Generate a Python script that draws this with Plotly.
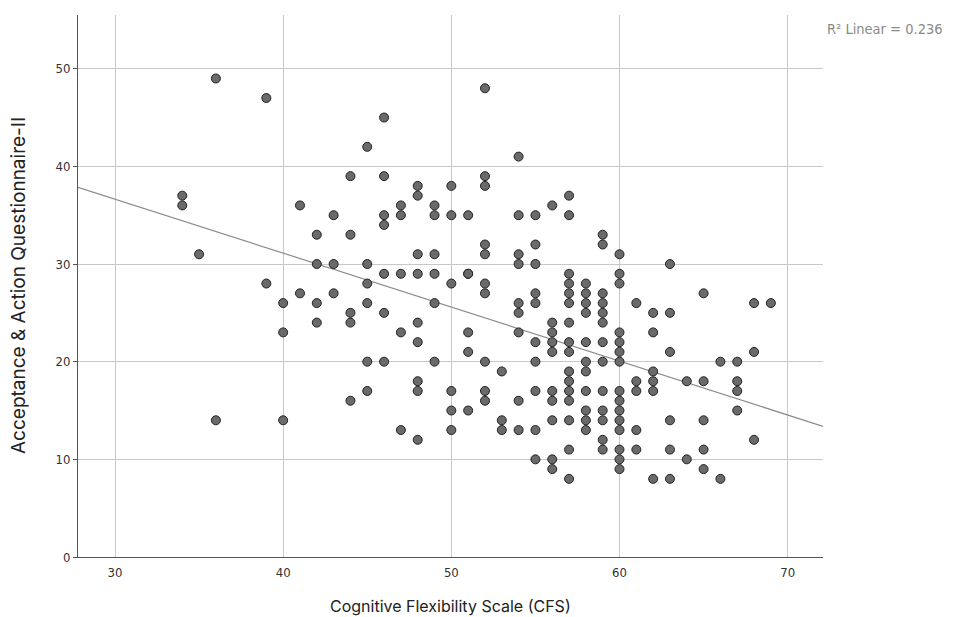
import numpy as np
import plotly.graph_objects as go

# Data (CFS score -> AAQ-II values)
cfs_groups = {
    34: [37, 36],
    35: [31],
    36: [49, 14],
    39: [47, 28],
    40: [26, 23, 14],
    41: [36, 27],
    42: [33, 30, 26, 24],
    43: [35, 30, 27],
    44: [39, 33, 25, 24, 16],
    45: [42, 30, 28, 26, 20, 17],
    46: [45, 39, 35, 34, 29, 25, 20],
    47: [36, 35, 29, 23, 13],
    48: [38, 37, 31, 29, 24, 22, 18, 17, 12],
    49: [36, 35, 31, 29, 26, 20],
    50: [38, 35, 28, 17, 15, 13],
    51: [35, 29, 29, 23, 21, 15],
    52: [48, 39, 38, 32, 31, 28, 27, 20, 17, 16],
    53: [19, 14, 13],
    54: [41, 35, 31, 30, 26, 25, 23, 16, 13],
    55: [35, 32, 30, 27, 26, 22, 20, 17, 13, 10],
    56: [36, 24, 23, 22, 21, 17, 16, 14, 10, 9],
    57: [37, 35, 29, 28, 27, 26, 24, 22, 21, 19, 18, 17, 16, 14, 11, 8],
    58: [28, 27, 26, 25, 22, 20, 19, 17, 15, 14, 13],
    59: [33, 32, 27, 26, 25, 24, 22, 20, 17, 15, 14, 12, 11],
    60: [31, 29, 28, 23, 22, 21, 20, 17, 16, 15, 14, 13, 11, 10, 9],
    61: [26, 18, 17, 13, 11],
    62: [25, 23, 19, 18, 17, 8],
    63: [30, 25, 21, 14, 11, 8],
    64: [18, 10],
    65: [27, 18, 14, 11, 9],
    66: [20, 8],
    67: [20, 18, 17, 15],
    68: [26, 21, 12],
    69: [26],
}
cfs = [x for x, ys in cfs_groups.items() for _ in ys]
aaq = [y for ys in cfs_groups.values() for y in ys]

x_ticks = [30, 40, 50, 60, 70]
y_ticks = [0, 10, 20, 30, 40, 50]
x_range = [27.8, 72.1]
y_range = [0, 55.5]
r2_label = "R² Linear = 0.236"
x_title = "Cognitive Flexibility Scale (CFS)"
y_title = "Acceptance & Action Questionnaire-II"

slope, intercept = np.polyfit(cfs, aaq, 1)
line_x = np.array(x_range)
line_y = intercept + slope * line_x

fig = go.Figure()
fig.add_trace(go.Scatter(
    x=line_x, y=line_y, mode="lines",
    line=dict(color="#8c8c8c", width=1.2), hoverinfo="skip", showlegend=False,
))
fig.add_trace(go.Scatter(
    x=cfs, y=aaq, mode="markers",
    marker=dict(size=9, color="#6a6a6a", line=dict(color="#222222", width=1)),
    showlegend=False,
))

fig.add_annotation(
    x=1.0, y=1.0, xref="paper", yref="paper", xanchor="left", yanchor="top",
    xshift=2, yshift=-4, text=r2_label, showarrow=False,
    font=dict(family="DejaVu Sans Condensed, DejaVu Sans", size=14.5, color="#8a8a8a"),
)
# Axis titles placed as annotations for precise positioning
fig.add_annotation(
    x=0.5, y=0, xref="paper", yref="paper", xanchor="center", yanchor="middle",
    yshift=-49, text=x_title, showarrow=False,
    font=dict(family="Inter, Roboto, sans-serif", size=16, color="#222222"),
)
fig.add_annotation(
    x=0, y=0.5, xref="paper", yref="paper", xanchor="center", yanchor="middle",
    xshift=-60, textangle=-90, text=y_title, showarrow=False,
    font=dict(family="Inter, Roboto, sans-serif", size=19, color="#222222"),
)

fig.update_layout(
    width=954, height=617,
    margin=dict(l=78, r=131, t=15, b=60, autoexpand=False),
    paper_bgcolor="white", plot_bgcolor="white",
    font=dict(family="Inter, Roboto, sans-serif", color="#222222"),
)
fig.update_xaxes(
    range=x_range, tickvals=x_ticks, showgrid=True, gridcolor="#c8c8c8", gridwidth=1,
    zeroline=False, showline=True, linecolor="#555555", linewidth=1, automargin=False,
    ticks="outside", ticklen=3, tickcolor="rgba(0,0,0,0)",
    tickfont=dict(size=13, family="DejaVu Sans Condensed, DejaVu Sans", color="#333333"),
)
fig.update_yaxes(
    range=y_range, tickvals=y_ticks, showgrid=True, gridcolor="#c8c8c8", gridwidth=1,
    zeroline=False, showline=True, linecolor="#555555", linewidth=1, automargin=False,
    ticks="outside", ticklen=4, tickcolor="#555555",
    tickfont=dict(size=13, family="DejaVu Sans Condensed, DejaVu Sans", color="#333333"),
)

fig.write_html(
    "out.html",
    config={"displayModeBar": False},
    post_script="document.body.style.margin='0px';document.body.style.overflow='hidden';",
)
